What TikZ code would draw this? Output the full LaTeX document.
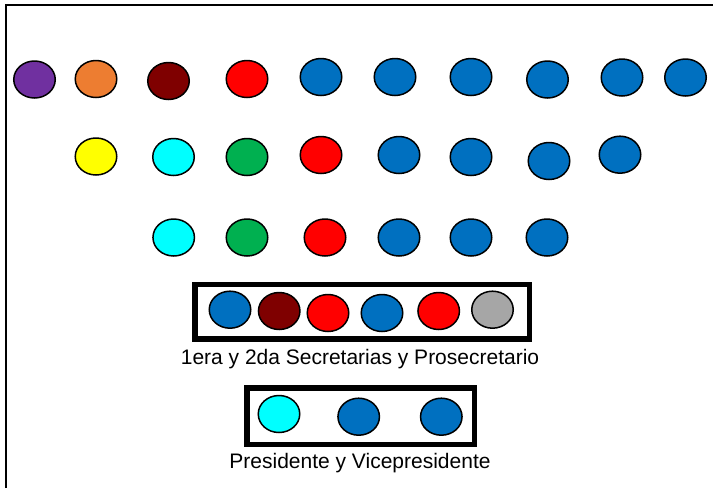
\documentclass[tikz,border=0pt]{standalone}
\usepackage{fontspec}
\setmainfont{Liberation Sans}
\usetikzlibrary{shapes.geometric}
\definecolor{cpurple}{HTML}{7030A0}
\definecolor{corange}{HTML}{ED7D31}
\definecolor{cmaroon}{HTML}{7F0000}
\definecolor{cred}{HTML}{FF0000}
\definecolor{cblue}{HTML}{0070C0}
\definecolor{cyellow}{HTML}{FFFF00}
\definecolor{ccyan}{HTML}{00FFFF}
\definecolor{cgreen}{HTML}{00B050}
\definecolor{cgray}{HTML}{A6A6A6}
\tikzset{
  seat/.style={ellipse, draw=black, line width=1.5pt, fill=#1, minimum width=41.5pt, minimum height=37pt, inner sep=0pt},
  framebox/.style={draw=black, line width=5.5pt},
  caption/.style={font=\fontsize{21}{24}\selectfont, anchor=base, inner sep=0pt}
}
\begin{document}
\begin{tikzpicture}[x=1pt,y=-1pt]
\useasboundingbox (0,0) rectangle (713,488);
\fill[white] (0,0) rectangle (713,488);
% frame lines
\coordinate (ftl) at (6,5);
\coordinate (fbl) at (6,488);
\coordinate (ftr) at (713,5);
\draw[line width=2pt] (fbl) -- (ftl) -- (ftr);
% row 1
\node[seat=cpurple] (a1) at (34.5,79.5) {};
\node[seat=corange] (a2) at (96,79) {};
\node[seat=cmaroon] (a3) at (168.5,81) {};
\node[seat=cred] (a4) at (247,79) {};
\node[seat=cblue] (a5) at (321,77) {};
\node[seat=cblue] (a6) at (395,77) {};
\node[seat=cblue] (a7) at (471,77) {};
\node[seat=cblue] (a8) at (547.5,79.5) {};
\node[seat=cblue] (a9) at (622,77.5) {};
\node[seat=cblue] (a10) at (685.5,77.5) {};
% row 2
\node[seat=cyellow] (b1) at (96,156.5) {};
\node[seat=ccyan] (b2) at (173.5,157) {};
\node[seat=cgreen] (b3) at (247,157) {};
\node[seat=cred] (b4) at (321,155) {};
\node[seat=cblue] (b5) at (399,155) {};
\node[seat=cblue] (b6) at (471,157) {};
\node[seat=cblue] (b7) at (549,161) {};
\node[seat=cblue] (b8) at (620,154.7) {};
% row 3
\node[seat=ccyan] (c1) at (173.7,237.5) {};
\node[seat=cgreen] (c2) at (247,237.5) {};
\node[seat=cred] (c3) at (325,237.5) {};
\node[seat=cblue] (c4) at (399,237.5) {};
\node[seat=cblue] (c5) at (471,237.5) {};
\node[seat=cblue] (c6) at (547,237.5) {};
% secretaries box
\draw[framebox] (195,284.5) rectangle (529.5,339);
\node[seat=cblue] (d1) at (230,309.7) {};
\node[seat=cmaroon] (d2) at (279.2,311) {};
\node[seat=cred] (d3) at (328,313) {};
\node[seat=cblue] (d4) at (382,313) {};
\node[seat=cred] (d5) at (438.7,311) {};
\node[seat=cgray] (d6) at (492.5,309.7) {};
\node[caption] (t1) at (360,364.3) {1era y 2da Secretarias y Prosecretario};
% president box
\draw[framebox] (247,388) rectangle (474.3,444.3);
\node[seat=ccyan] (e1) at (279,414) {};
\node[seat=cblue] (e2) at (358.7,416.7) {};
\node[seat=cblue] (e3) at (441.3,416.7) {};
\node[caption] (t2) at (360,468.3) {Presidente y Vicepresidente};
\end{tikzpicture}
\end{document}
